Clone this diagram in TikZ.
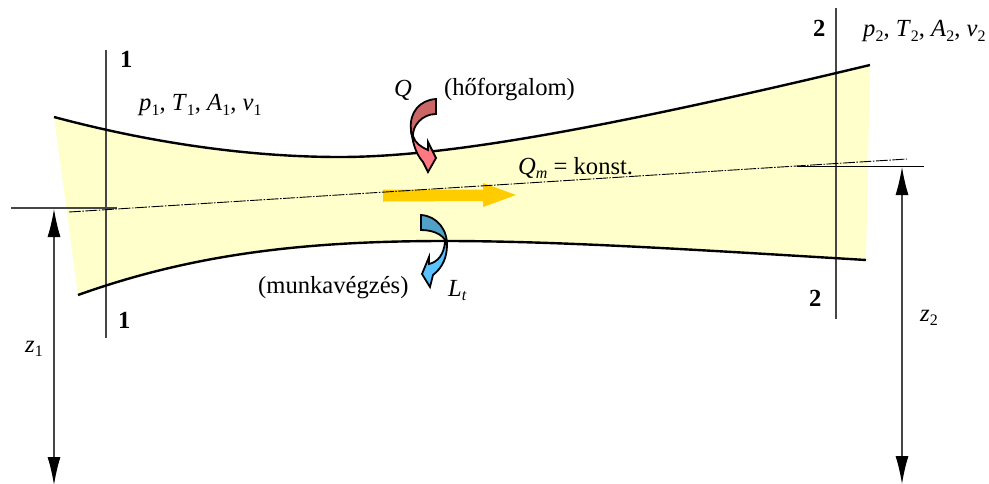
\documentclass[tikz,border=0pt]{standalone}
\usepackage{fontspec}
\setmainfont{Liberation Serif}
\usetikzlibrary{arrows.meta}
\definecolor{flow}{RGB}{255,255,204}
\definecolor{gold}{RGB}{255,204,0}
\definecolor{qtop}{RGB}{204,102,102}
\definecolor{qbot}{RGB}{255,120,130}
\definecolor{ltop}{RGB}{80,160,200}
\definecolor{lbot}{RGB}{90,195,255}
\definecolor{guide}{RGB}{70,70,70}
\tikzset{
  x=1pt,y=-1pt,
  lbl/.style={inner sep=0pt,font=\fontsize{24.6}{28}\selectfont,anchor=base west},
  wall/.style={line width=2.4pt,black},
  guideline/.style={line width=1.1pt,guide},
  dim/.style={line width=1.1pt,guide,{Latex[length=28pt,width=13pt,black]}-{Latex[length=28pt,width=13pt,black]}},
  axisline/.style={line width=0.9pt,black,dash pattern=on 12pt off 1.5pt on 1.5pt off 1.5pt},
  curl/.style={draw=black,line width=1.8pt,line join=miter}
}
\newcommand{\low}[1]{\raisebox{-0.2em}{\fontsize{16}{16}\selectfont #1}}
\begin{document}
\begin{tikzpicture}
\useasboundingbox (0,0) rectangle (989,483);
% flow
\fill[flow] (54,117) .. controls (140,140) and (240,157) .. (340,157)
  .. controls (440,157) and (590,132) .. (870,65)
  -- (866,260) .. controls (700,250) and (560,241) .. (445,241)
  .. controls (300,241) and (190,255) .. (78,295) -- cycle;
\coordinate (t1) at (54,117); \coordinate (t2) at (870,65);
\coordinate (b1) at (78,295); \coordinate (b2) at (866,260);
% guide lines
\coordinate (s1a) at (106,50); \coordinate (s1b) at (106,338);
\coordinate (s2a) at (836,8); \coordinate (s2b) at (836,319);
\draw[guideline] (s1a) -- (s1b);
\draw[guideline] (s2a) -- (s2b);
\coordinate (h1a) at (11,208); \coordinate (h1b) at (117,208);
\coordinate (h2a) at (797,166); \coordinate (h2b) at (924,166);
\draw[guideline] (h1a) -- (h1b);
\draw[line width=1pt,black] (h2a) -- (h2b);
% walls
\draw[wall] (t1) .. controls (140,140) and (240,157) .. (340,157)
  .. controls (440,157) and (590,132) .. (t2);
\draw[wall] (b1) .. controls (190,255) and (300,241) .. (445,241)
  .. controls (560,241) and (700,250) .. (b2);
% big flow arrow
\fill[gold] (383,189.5) -- (483,189.5) -- (483,183) -- (516,195) -- (483,207) -- (483,201) -- (383,201.5) -- cycle;
% axis
\coordinate (a1) at (69,212); \coordinate (a2) at (907,159);
\draw[axisline] (a1) -- (a2);
% dimensions
\coordinate (d1a) at (54,209); \coordinate (d1b) at (54,485);
\coordinate (d2a) at (902,167); \coordinate (d2b) at (902,484);
\draw[dim] (d1a) -- (d1b);
\draw[dim] (d2a) -- (d2b);
% Q curl
\path[curl,fill=qbot] (411,128) .. controls (412,140) and (415,153) .. (423,162)
  -- (428,172) -- (436,158) -- (428,142) -- (428,150)
  .. controls (421,147) and (415,143) .. (413,136) -- cycle;
\path[curl,fill=qtop] (436,99) .. controls (420,100) and (409,112) .. (411,130)
  .. controls (411,134) and (412,136) .. (413,137)
  .. controls (412,126) and (422,114) .. (436,114) -- cycle;
% Lt curl
\path[curl,fill=lbot] (447,245) .. controls (447,258) and (442,268) .. (433,275)
  -- (430,287) -- (422,274) -- (429,257) -- (429,264)
  .. controls (438,262) and (444,254) .. (445,242) -- cycle;
\path[curl,fill=ltop] (421,215) .. controls (437,216) and (448,230) .. (447,247)
  .. controls (447,236) and (435,230) .. (421,230) -- cycle;
% labels
\node[lbl] (n1a) at (120,67) {\textbf{1}};
\node[lbl] (n1b) at (118,328) {\textbf{1}};
\node[lbl] (n2a) at (813,36) {\textbf{2}};
\node[lbl] (n2b) at (809,306) {\textbf{2}};
\node[lbl] (st1) at (139,110.5) {\textit{p}\low{1}, \textit{T}\low{1}, \textit{A}\low{1}, \textit{v}\low{1}};
\node[lbl] (st2) at (863,36.5) {\textit{p}\low{2}, \textit{T}\low{2}, \textit{A}\low{2}, \textit{v}\low{2}};
\node[lbl] (q) at (394,96.5) {\textit{Q}};
\node[lbl] (hf) at (444,95.5) {(hőforgalom)};
\node[lbl] (qm) at (518,174) {\textit{Q}\low{\textit{m}} = konst.};
\node[lbl] (mv) at (258,293.5) {(munkavégzés)};
\node[lbl] (lt) at (448,296) {\textit{L}\low{\textit{t}}};
\node[lbl] (z1) at (25,352) {\textit{z}\low{1}};
\node[lbl] (z2) at (920,321) {\textit{z}\low{2}};
\end{tikzpicture}
\end{document}
